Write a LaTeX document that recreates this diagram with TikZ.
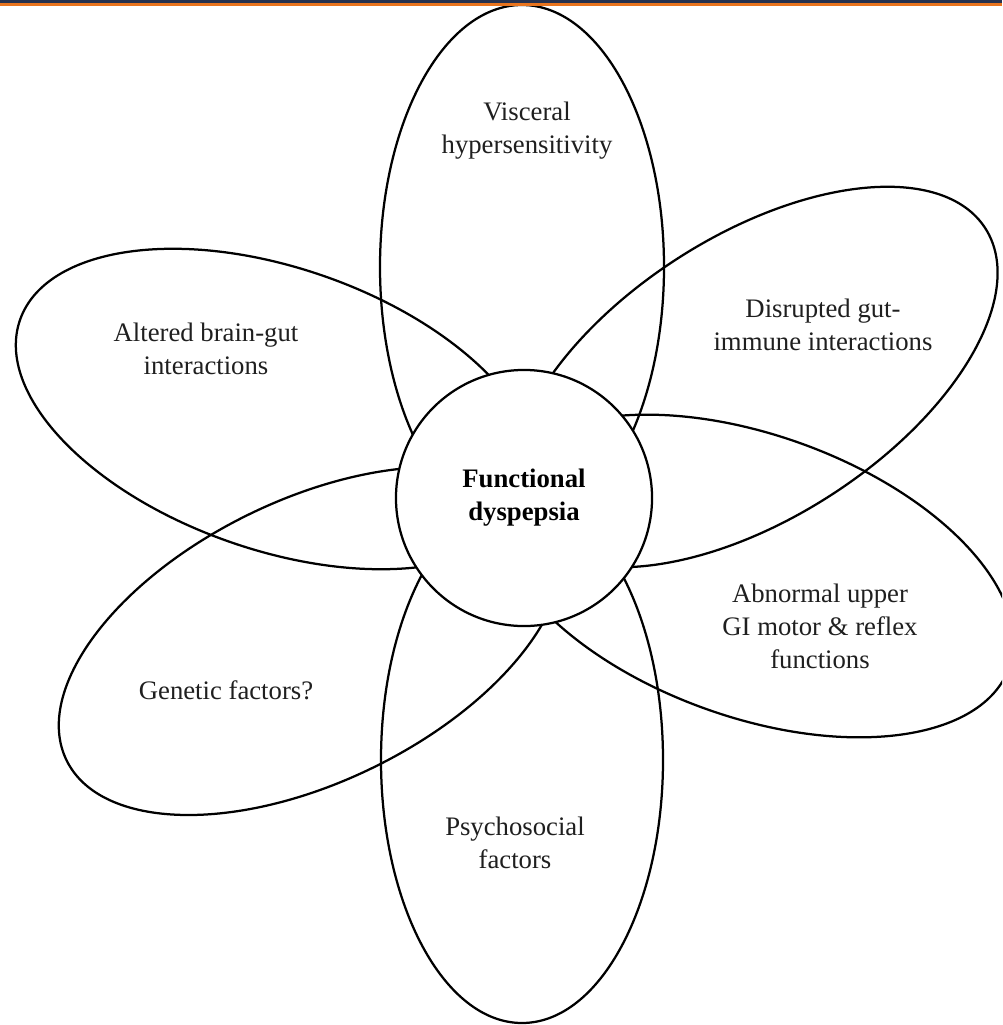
\documentclass[tikz,border=0pt]{standalone}
\usepackage{fontspec}
\setmainfont{Liberation Serif}
\definecolor{hdrnavy}{HTML}{26324F}
\definecolor{hdrorange}{HTML}{E8741E}

\begin{document}
\begin{tikzpicture}[x=0.025cm, y=-0.025cm,
		petal/.style={draw=black, line width=1.6pt},
		lbl/.style={align=center, text=black!88, font=\fontsize{19}{23.5}\selectfont},
		core/.style={circle, draw=black, fill=white, line width=1.6pt, minimum size=6.4cm, inner sep=0pt,
			align=center, font=\fontsize{19}{23.5}\selectfont\bfseries}]
		\useasboundingbox (0,0) rectangle (1002,1025);
		\fill[white] (0,0) rectangle (1002,1025);
		\clip (0,0) rectangle (1002,1025);
		\draw[petal] (522,267) ellipse [x radius=142, y radius=262];
		\draw[petal, rotate around={32.75:(754,377)}] (754,377) ellipse [x radius=275, y radius=141];
		\draw[petal, rotate around={-19.7:(753,576)}] (753,576) ellipse [x radius=272, y radius=141];
		\draw[petal] (522,760) ellipse [x radius=141, y radius=263];
		\draw[petal, rotate around={26:(311,641)}] (311,641) ellipse [x radius=272, y radius=141];
		\draw[petal, rotate around={-19.1:(277,409)}] (277,409) ellipse [x radius=272, y radius=141];
		\node[core] (fd) at (524,498) {Functional\\dyspepsia};
		\node[lbl] (visceral) at (527,131) {Visceral\\hypersensitivity};
		\node[lbl] (gutimmune) at (823,325) {Disrupted gut-\\immune interactions};
		\node[lbl] (motor) at (820,626) {Abnormal upper\\GI motor \& reflex\\functions};
		\node[lbl] (psycho) at (515,843) {Psychosocial\\factors};
		\node[lbl] (genetic) at (226,690) {Genetic factors?};
		\node[lbl] (braingut) at (206,349) {Altered brain-gut\\interactions};
		\fill[hdrnavy] (0,0) rectangle (1002,3);
		\fill[hdrorange] (0,3) rectangle (1002,6.5);
	\end{tikzpicture}
\end{document}
